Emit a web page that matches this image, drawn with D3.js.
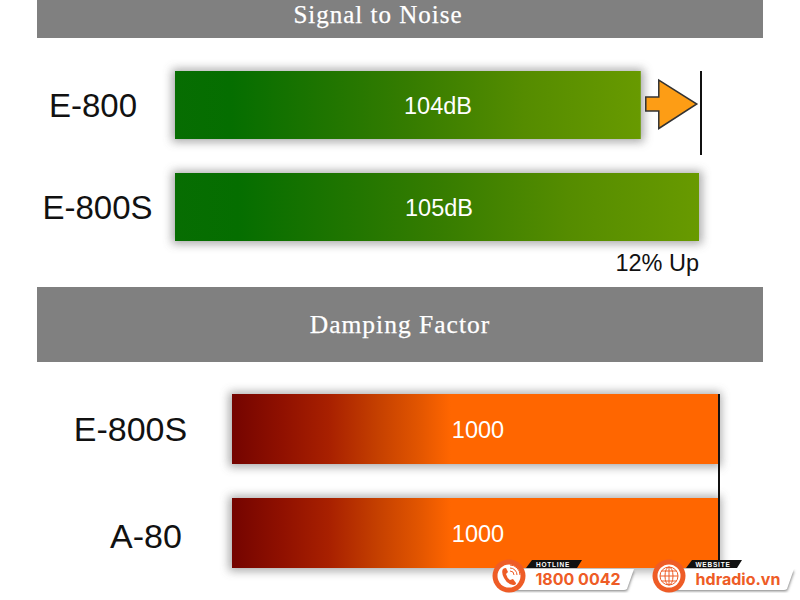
<!DOCTYPE html>
<html>
<head>
<meta charset="utf-8">
<script src="https://cdn.jsdelivr.net/npm/d3@7"></script>
<style>
html, body { margin: 0; padding: 0; background: #fff; }
svg { display: block; }
text { font-family: "Liberation Sans", Arial, sans-serif; }
.head { font-family: "Liberation Serif", serif; fill: #fff; letter-spacing: 1px; stroke: #fff; stroke-width: 0.25px; }
</style>
</head>
<body>
<svg id="chart" width="800" height="600"></svg>
<script>
let snrModels = ["E-800", "E-800S"];
let snrValues = [104, 105];
let snrLabels = ["104dB", "105dB"];
let dampModels = ["E-800S", "A-80"];
let dampValues = [1000, 1000];
let dampLabels = ["1000", "1000"];
let headers = ["Signal to Noise", "Damping Factor"];
let upNote = "12% Up";

let svg = d3.select("#chart");
let defs = svg.append("defs");

let blur = defs.append("filter").attr("id", "shadow")
    .attr("x", "-5%").attr("y", "-30%").attr("width", "110%").attr("height", "160%");
blur.append("feGaussianBlur").attr("stdDeviation", 5);

let badgeBlur = defs.append("filter").attr("id", "badgeShadow");
badgeBlur.append("feGaussianBlur").attr("stdDeviation", 1.5);

function gradient(id, stops) {
    let g = defs.append("linearGradient").attr("id", id);
    stops.forEach(s => g.append("stop").attr("offset", s[0]).attr("stop-color", s[1]));
}
gradient("green", [[0, "#076d02"], [0.12, "#056e00"], [0.3, "#1c7400"], [0.5, "#357c00"], [0.75, "#558c00"], [1, "#689a00"]]);
gradient("orange", [[0, "#740400"], [0.1, "#8f1000"], [0.2, "#a82000"], [0.3, "#c54000"], [0.38, "#e05400"], [0.45, "#ff6600"], [1, "#ff6600"]]);

// header bands
let headerY = d3.scaleOrdinal().domain(headers).range([0, 287]);
let headerH = d3.scaleOrdinal().domain(headers).range([38, 75]);
svg.selectAll(".band")
    .data(headers)
    .enter()
    .append("rect")
    .attr("class", "band")
    .attr("x", 37).attr("width", 726)
    .attr("y", d => headerY(d))
    .attr("height", d => headerH(d))
    .attr("fill", "#808080");

svg.selectAll(".head")
    .data(headers)
    .enter()
    .append("text")
    .attr("class", "head")
    .attr("text-anchor", "middle")
    .attr("x", (d, i) => i ? 400 : 378)
    .attr("y", (d, i) => i ? 333 : 23)
    .attr("font-size", (d, i) => i ? 25.5 : 25)
    .text(d => d);

function drawBars(models, values, labels, x, y, fill, opts) {
    let x0 = x.range()[0];
    let g = svg.append("g");

    g.selectAll(".shadow")
        .data(values)
        .enter()
        .append("rect")
        .attr("x", x0 - 3)
        .attr("y", (d, i) => y(models[i]) - 2)
        .attr("width", d => x(d) - x0 + 6)
        .attr("height", y.bandwidth() + 5)
        .attr("fill", "#999")
        .attr("opacity", 0.85)
        .attr("filter", "url(#shadow)");

    g.selectAll(".bar")
        .data(values)
        .enter()
        .append("rect")
        .attr("class", "bar")
        .attr("x", x0)
        .attr("y", (d, i) => y(models[i]))
        .attr("width", d => x(d) - x0)
        .attr("height", y.bandwidth())
        .attr("fill", `url(#${fill})`);

    g.selectAll(".val")
        .data(values)
        .enter()
        .append("text")
        .attr("class", "val")
        .attr("x", (d, i) => opts.valX[i])
        .attr("y", (d, i) => y(models[i]) + y.bandwidth() / 2 + 9)
        .attr("text-anchor", "middle")
        .attr("font-size", 23.5)
        .attr("fill", "#fff")
        .text((d, i) => labels[i]);

    g.selectAll(".model")
        .data(models)
        .enter()
        .append("text")
        .attr("class", "model")
        .attr("x", (d, i) => opts.labelX[i])
        .attr("y", (d, i) => y(d) + y.bandwidth() / 2 + opts.labelDy[i])
        .attr("text-anchor", "middle")
        .attr("font-size", opts.labelSize)
        .attr("fill", "#111")
        .text(d => d);
}

// signal to noise
let xSnr = d3.scaleLinear().domain([96, 105]).range([175, 699]);
let ySnr = d3.scaleBand().domain(snrModels).range([71, 241]).paddingInner(1 / 3);
drawBars(snrModels, snrValues, snrLabels, xSnr, ySnr, "green",
    {valX: [438, 439], labelX: [93, 97.5], labelDy: [11.5, 12], labelSize: 33});

// damping factor
let xDamp = d3.scaleLinear().domain([0, 1000]).range([232, 718]);
let yDamp = d3.scaleBand().domain(dampModels).range([394, 568]).paddingInner(34 / 104);
drawBars(dampModels, dampValues, dampLabels, xDamp, yDamp, "orange",
    {valX: [478, 478], labelX: [130.5, 146], labelDy: [12, 14.5], labelSize: 34});

// reference lines
svg.append("line")
    .attr("x1", xSnr(105) + 2).attr("x2", xSnr(105) + 2)
    .attr("y1", 71).attr("y2", 155)
    .attr("stroke", "#111").attr("stroke-width", 2);
svg.append("line")
    .attr("x1", xDamp(1000) + 1).attr("x2", xDamp(1000) + 1)
    .attr("y1", 394).attr("y2", 568)
    .attr("stroke", "#111").attr("stroke-width", 2);

// arrow between the two snr values
let ax = xSnr(104) + 5, ay = ySnr("E-800") + ySnr.bandwidth() / 2 - 1;
svg.append("path")
    .attr("d", `M${ax},${ay - 7}h13v-17l38,24l-38,24.5v-17.5h-13z`)
    .attr("fill", "#fd9d15")
    .attr("stroke", "#333")
    .attr("stroke-width", 1.5);

svg.append("text")
    .attr("x", 699).attr("y", 271)
    .attr("text-anchor", "end")
    .attr("font-size", 23.5)
    .attr("fill", "#111")
    .text(upNote);

// contact badges at the bottom
let badges = [
    {x: 492, tag: "HOTLINE", big: "1800 0042"},
    {x: 652, tag: "WEBSITE", big: "hdradio.vn"}
];
let badge = svg.selectAll(".badge")
    .data(badges)
    .enter()
    .append("g")
    .attr("class", "badge")
    .attr("transform", d => `translate(${d.x},561)`);

badge.append("path")
    .attr("d", "M12,10H142L135,30H14Z")
    .attr("fill", "#777")
    .attr("filter", "url(#badgeShadow)");
badge.append("path")
    .attr("d", "M12,8H142L135,28Q134,29 132,29H14Z")
    .attr("fill", "#fff");
badge.append("path")
    .attr("d", "M40,-1H90L85,7H34Z")
    .attr("fill", "#111");
badge.append("text")
    .attr("x", 61).attr("y", 6)
    .attr("text-anchor", "middle")
    .attr("font-size", 6.5)
    .attr("font-weight", "bold")
    .attr("letter-spacing", 0.8)
    .attr("fill", "#fff")
    .text(d => d.tag);
badge.append("text")
    .attr("x", 86).attr("y", 24)
    .attr("text-anchor", "middle")
    .attr("font-size", 16)
    .attr("font-weight", "bold")
    .attr("fill", "#ee5c26")
    .style("font-family", "Inter, 'Open Sans', sans-serif")
    .text(d => d.big);
badge.append("circle")
    .attr("cx", 17).attr("cy", 15).attr("r", 16.5)
    .attr("fill", "#ee5c26");
badge.append("circle")
    .attr("cx", 17).attr("cy", 15).attr("r", 11.5)
    .attr("fill", "#fff");

// phone
d3.select(badge.nodes()[0]).append("path")
    .attr("d", "M11,8q-2,3 1,9t9,7q3,0 3,-2l-3,-4l-3,1q-3,-2 -4,-6l2,-2l-2,-4q-2,0 -3,1z")
    .attr("fill", "#ee5c26");
d3.select(badge.nodes()[0]).selectAll(".wave")
    .data([4, 7, 10])
    .enter()
    .append("path")
    .attr("d", d => `M${18},${14 - d}a${d},${d} 0 0 1 ${d},${d}`)
    .attr("fill", "none")
    .attr("stroke", "#ee5c26")
    .attr("stroke-width", 1);

// globe
let globe = d3.select(badge.nodes()[1]).append("g")
    .attr("fill", "none").attr("stroke", "#ee5c26").attr("stroke-width", 1);
globe.append("circle").attr("cx", 17).attr("cy", 15).attr("r", 9);
globe.append("ellipse").attr("cx", 17).attr("cy", 15).attr("rx", 4).attr("ry", 9);
globe.append("path").attr("d", "M8,15h18M17,6v18M9.5,10h15M9.5,20h15");
</script>
</body>
</html>
